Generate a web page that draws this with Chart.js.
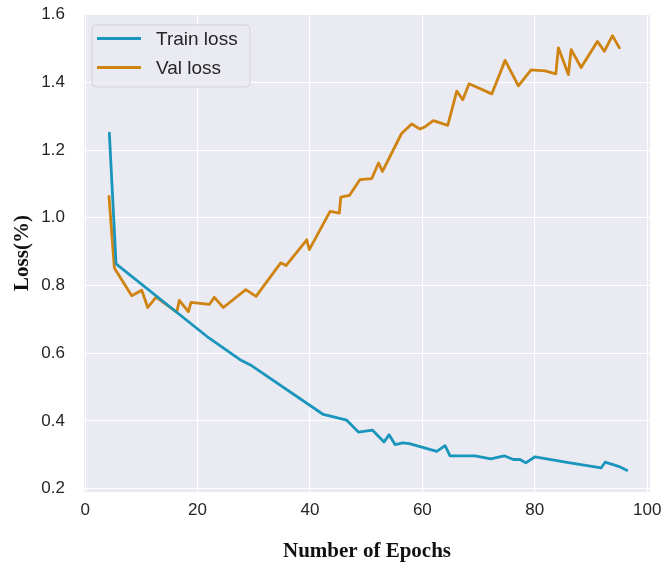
<!DOCTYPE html>
<html>
<head>
<meta charset="utf-8">
<script src="https://cdn.jsdelivr.net/npm/chart.js@4"></script>
<style>
  html, body { margin: 0; padding: 0; background: #ffffff; }
  #wrap { width: 666px; height: 563px; position: relative; }
</style>
</head>
<body>
<div id="wrap"><canvas id="c"></canvas></div>
<script>
// ---- data ----
const trainEpochs = [4.31, 5.50, 21.64, 27.56, 29.34, 42.38, 46.55, 48.61, 51.10, 53.19, 54.07, 55.14, 56.51, 57.69, 62.56, 64.04, 64.93, 69.38, 72.17, 74.54, 76.19, 77.38, 78.40, 80.05, 86.28, 91.80, 92.51, 95.18, 96.37];
const trainLoss   = [1.250, 0.864, 0.650, 0.581, 0.566, 0.419, 0.402, 0.367, 0.373, 0.338, 0.359, 0.330, 0.335, 0.333, 0.310, 0.327, 0.297, 0.297, 0.288, 0.297, 0.286, 0.286, 0.276, 0.294, 0.276, 0.261, 0.278, 0.264, 0.254];

const valEpochs = [4.25, 5.20, 8.29, 10.07, 11.14, 12.62, 16.30, 16.76, 18.36, 18.84, 22.10, 22.99, 24.59, 28.58, 30.41, 34.80, 35.75, 39.43, 39.89, 43.58, 45.23, 45.48, 47.01, 48.91, 51.00, 52.20, 52.90, 56.30, 58.10, 59.60, 60.50, 61.96, 64.52, 66.12, 67.19, 68.31, 72.35, 74.72, 77.08, 79.34, 81.83, 83.74, 84.20, 85.98, 86.46, 88.24, 91.14, 92.38, 93.81, 95.05];
const valLoss   = [1.063, 0.852, 0.770, 0.786, 0.735, 0.766, 0.721, 0.756, 0.723, 0.750, 0.744, 0.765, 0.735, 0.788, 0.768, 0.867, 0.859, 0.935, 0.906, 1.019, 1.014, 1.061, 1.066, 1.113, 1.116, 1.162, 1.137, 1.249, 1.277, 1.262, 1.269, 1.287, 1.273, 1.374, 1.349, 1.396, 1.366, 1.465, 1.390, 1.437, 1.434, 1.425, 1.502, 1.423, 1.497, 1.444, 1.521, 1.492, 1.538, 1.502];

const seriesNames = ['Train loss', 'Val loss'];
const xTickValues = [0, 20, 40, 60, 80, 100];
const yTickValues = [0.2, 0.4, 0.6, 0.8, 1.0, 1.2, 1.4, 1.6];
const xTitle = 'Number of Epochs';
const yTitle = 'Loss(%)';

// ---- styles ----
const COLORS = ['#1a96bd', '#cf8310'];
const BG = '#EAEAF2';
const TEXT = '#262626';

const toPts = (xs, ys) => xs.map((x, i) => ({ x: x, y: ys[i] }));

const bgPlugin = {
  id: 'bgPlugin',
  beforeDraw(chart) {
    const { ctx, chartArea: a } = chart;
    ctx.save();
    ctx.fillStyle = BG;
    ctx.fillRect(a.left, a.top, a.right - a.left, a.bottom - a.top);
    ctx.restore();
  }
};

const legendPlugin = {
  id: 'boxLegend',
  afterDraw(chart) {
    const { ctx, chartArea: a } = chart;
    const x0 = a.left + 8, y0 = a.top + 11, w = 158, h = 62, r = 4;
    ctx.save();
    ctx.beginPath();
    ctx.moveTo(x0 + r, y0);
    ctx.lineTo(x0 + w - r, y0);
    ctx.arcTo(x0 + w, y0, x0 + w, y0 + r, r);
    ctx.lineTo(x0 + w, y0 + h - r);
    ctx.arcTo(x0 + w, y0 + h, x0 + w - r, y0 + h, r);
    ctx.lineTo(x0 + r, y0 + h);
    ctx.arcTo(x0, y0 + h, x0, y0 + h - r, r);
    ctx.lineTo(x0, y0 + r);
    ctx.arcTo(x0, y0, x0 + r, y0, r);
    ctx.closePath();
    ctx.fillStyle = 'rgba(234,234,242,0.8)';
    ctx.fill();
    ctx.strokeStyle = 'rgba(204,204,204,0.8)';
    ctx.lineWidth = 1;
    ctx.stroke();
    chart.data.datasets.forEach((ds, i) => {
      const yy = y0 + 13.5 + i * 29;
      ctx.beginPath();
      ctx.moveTo(x0 + 5, yy);
      ctx.lineTo(x0 + 49, yy);
      ctx.strokeStyle = ds.borderColor;
      ctx.lineWidth = 2.8;
      ctx.stroke();
      ctx.fillStyle = TEXT;
      ctx.font = '19px "Liberation Sans", Arial, sans-serif';
      ctx.textBaseline = 'middle';
      ctx.textAlign = 'left';
      ctx.fillText(ds.label, x0 + 64, yy + 1);
    });
    ctx.restore();
  }
};

new Chart(document.getElementById('c'), {
  type: 'line',
  data: {
    datasets: [
      { label: seriesNames[0], data: toPts(trainEpochs, trainLoss), borderColor: COLORS[0], backgroundColor: COLORS[0] },
      { label: seriesNames[1], data: toPts(valEpochs, valLoss), borderColor: COLORS[1], backgroundColor: COLORS[1] }
    ]
  },
  options: {
    responsive: true,
    maintainAspectRatio: false,
    animation: false,
    layout: { padding: { top: 14, right: 16, left: 0, bottom: 0 } },
    elements: {
      line: { borderWidth: 2.8, tension: 0, borderJoinStyle: 'round', borderCapStyle: 'round' },
      point: { radius: 0, hoverRadius: 0 }
    },
    plugins: { legend: { display: false }, tooltip: { enabled: false } },
    scales: {
      x: {
        type: 'linear',
        min: -0.2, max: 100.5,
        afterBuildTicks: s => { s.ticks = xTickValues.map(v => ({ value: v })); },
        afterFit: s => { s.height = 71; s.paddingLeft = 0; s.paddingRight = 0; },
        grid: { color: '#ffffff', lineWidth: 1.1, drawTicks: false },
        border: { display: false },
        ticks: { padding: 8, color: TEXT, font: { family: '"Liberation Sans", Arial, sans-serif', size: 17 }, maxRotation: 0, callback: v => String(v) },
        title: { display: true, text: xTitle, color: '#111', padding: { top: 0, bottom: 0 },
                 font: { family: '"Liberation Serif", "Times New Roman", serif', size: 21, weight: 'bold', lineHeight: 1.1 } }
      },
      y: {
        type: 'linear',
        min: 0.19, max: 1.602,
        afterBuildTicks: s => { s.ticks = yTickValues.map(v => ({ value: v })); },
        afterFit: s => { s.width = 84; s.paddingTop = 0; s.paddingBottom = 0; },
        grid: { color: '#ffffff', lineWidth: 1.1, drawTicks: false },
        border: { display: false },
        ticks: { padding: 19, color: TEXT, font: { family: '"Liberation Sans", Arial, sans-serif', size: 17 }, callback: v => Number(v).toFixed(1) },
        title: { display: true, text: yTitle, color: '#111', padding: { top: 11, bottom: 0 },
                 font: { family: '"Liberation Serif", "Times New Roman", serif', size: 21, weight: 'bold', lineHeight: 1.1 } }
      }
    }
  },
  plugins: [bgPlugin, legendPlugin]
});
</script>
</body>
</html>
